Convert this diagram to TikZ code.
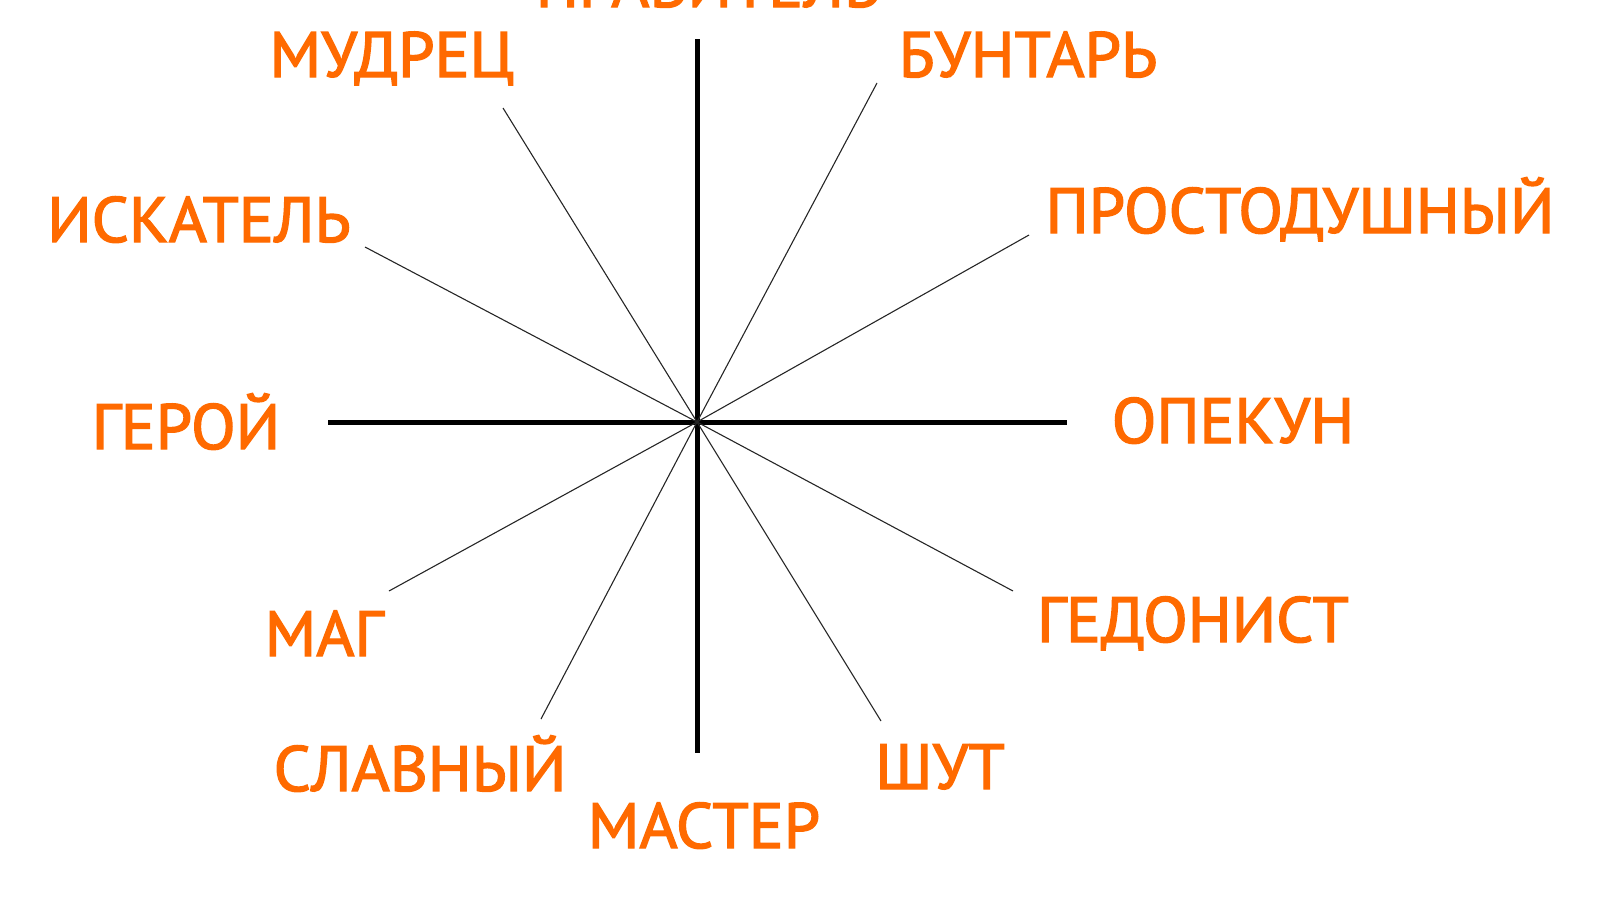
\documentclass[tikz,border=0pt]{standalone}
\usepackage{fontspec}
\newfontfamily\archfont{PT Sans}[FakeBold=2.2, FakeStretch=1.02]
\usepackage{tikz}

\definecolor{archorange}{RGB}{255,106,0}

\begin{document}
\begin{tikzpicture}[x=1pt, y=-1pt,
    lbl/.style={text=archorange, anchor=base, inner sep=0pt, font=\archfont\fontsize{64}{64}\selectfont},
    axis/.style={line width=5pt},
    spoke/.style={line width=1.1pt, black!85}]
            \useasboundingbox (0,0) rectangle (1600,900);

            % Centre and free ends of the spokes
            \coordinate (c) at (697,422);
            \coordinate (top) at (697,39);
            \coordinate (bottom) at (697,753);
            \coordinate (left) at (328,422);
            \coordinate (right) at (1067,422);
            \coordinate (mudrecEnd) at (503,108);
            \coordinate (buntarEnd) at (877,83);
            \coordinate (iskatelEnd) at (365,247);
            \coordinate (prostEnd) at (1029,235);
            \coordinate (magEnd) at (389,591);
            \coordinate (gedonistEnd) at (1013,591);
            \coordinate (slavnyEnd) at (541,719);
            \coordinate (shutEnd) at (881,721);

            % Draw axes
            \draw[axis] (top) -- (bottom);
            \draw[axis] (left) -- (right);

            % Draw spokes
            \draw[spoke] (c) -- (mudrecEnd);
            \draw[spoke] (c) -- (buntarEnd);
            \draw[spoke] (c) -- (iskatelEnd);
            \draw[spoke] (c) -- (prostEnd);
            \draw[spoke] (c) -- (magEnd);
            \draw[spoke] (c) -- (gedonistEnd);
            \draw[spoke] (c) -- (slavnyEnd);
            \draw[spoke] (c) -- (shutEnd);

            % Labels
            \node[lbl] (pravitel) at (708,7) {ПРАВИТЕЛЬ};
            \node[lbl] (mudrec) at (392,77) {МУДРЕЦ};
            \node[lbl] (buntar) at (1028,77) {БУНТАРЬ};
            \node[lbl] (iskatel) at (199,242) {ИСКАТЕЛЬ};
            \node[lbl] (prost) at (1300,233) {ПРОСТОДУШНЫЙ};
            \node[lbl] (geroi) at (186,449) {ГЕРОЙ};
            \node[lbl] (opekun) at (1233,443) {ОПЕКУН};
            \node[lbl] (mag) at (324,656) {МАГ};
            \node[lbl] (gedonist) at (1193,642) {ГЕДОНИСТ};
            \node[lbl] (slavny) at (420,791) {СЛАВНЫЙ};
            \node[lbl] (shut) at (940,789) {ШУТ};
            \node[lbl] (master) at (704,848) {МАСТЕР};
        \end{tikzpicture}
\end{document}
